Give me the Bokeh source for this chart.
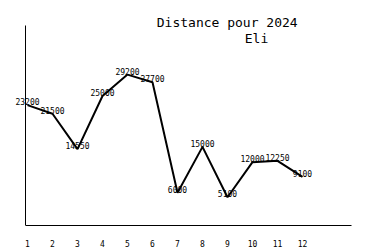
from bokeh.plotting import figure
from bokeh.models import ColumnDataSource, Range1d, FixedTicker, Label, LinearAxis
from bokeh.embed import file_html
from bokeh.resources import INLINE

months = [1, 2, 3, 4, 5, 6, 7, 8, 9, 10, 11, 12]
distances = [23200, 21500, 14550, 25000, 29200, 27700, 6000, 15000, 5100, 12000, 12250, 9100]
labels = [str(v) for v in distances]
title_line1 = "Distance pour 2024"
title_line2 = "Eli"

FONT = "DejaVu Sans Mono"

X0, X1 = 0.92, 13.96      # data extent of the drawn x axis
Y0, Y1 = -452, 38850      # data extent of the drawn y axis

p = figure(width=375, height=250, output_backend="svg", toolbar_location=None,
           x_range=Range1d(-0.08, 13.96), y_range=Range1d(-452, 43760),
           x_axis_location=None, y_axis_location=None,
           min_border_left=0, min_border_right=24, min_border_top=0, min_border_bottom=25)
p.frame_width = 351
p.frame_height = 225
p.outline_line_color = None
p.xgrid.visible = False
p.ygrid.visible = False
p.background_fill_color = "white"
p.border_fill_color = "white"

src = ColumnDataSource(dict(x=months, y=distances, t=labels))
p.line("x", "y", source=src, line_color="black", line_width=2)
p.text("x", "y", text="t", source=src, text_align="center", text_baseline="middle",
       y_offset=-3.5, text_font_size="8px", text_color="black",
       text_font={"value": FONT})

xa = LinearAxis(ticker=FixedTicker(ticks=months), bounds=(X0, X1))
xa.major_tick_out = 0
xa.major_tick_in = 0
xa.minor_tick_out = 0
xa.minor_tick_in = 0
xa.major_label_text_align = "left"
xa.major_label_standoff = 14
xa.major_label_text_font = FONT
xa.major_label_text_font_size = "8px"
xa.major_label_text_color = "black"
xa.axis_line_color = "black"
p.add_layout(xa, "below")

ya = LinearAxis(ticker=FixedTicker(ticks=[]), bounds=(Y0, Y1), fixed_location=X0)
ya.major_tick_out = 0
ya.major_tick_in = 0
ya.minor_tick_out = 0
ya.minor_tick_in = 0
ya.major_label_text_font_size = "0px"
ya.major_label_standoff = 0
ya.axis_line_color = "black"
p.add_layout(ya, "left")

p.add_layout(Label(x=8.988, y=39440, text=title_line1, text_align="center",
                   text_baseline="alphabetic", text_font=FONT, text_font_size="13px",
                   text_color="black"))
p.add_layout(Label(x=10.16, y=36390, text=title_line2, text_align="center",
                   text_baseline="alphabetic", text_font=FONT, text_font_size="13px",
                   text_color="black"))

open("out.html", "w").write(file_html(p, INLINE))
